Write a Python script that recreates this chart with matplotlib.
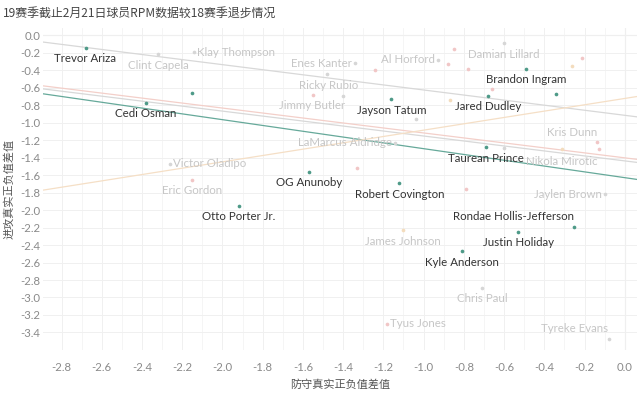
# 19赛季 RPM 退步情况 scatter chart
import numpy as np
import matplotlib
matplotlib.use('Agg')
import matplotlib.pyplot as plt

plt.rcParams['font.family'] = ['Lato', 'Noto Sans CJK SC', 'DejaVu Sans']

# Player data: defensive RPM diff (x), offensive RPM diff (y)
names = ['Trevor Ariza', 'Cedi Osman', '', 'Otto Porter Jr.', 'OG Anunoby',
         'Jayson Tatum', 'Robert Covington', 'Kyle Anderson', 'Taurean Prince',
         'Jared Dudley', 'Justin Holiday', 'Brandon Ingram', '',
         'Rondae Hollis-Jefferson',
         'Clint Capela', 'Klay Thompson', 'Victor Oladipo', 'Eric Gordon',
         'Jimmy Butler', 'Ricky Rubio', 'Enes Kanter', 'Al Horford',
         'Damian Lillard', 'LaMarcus Aldridge', 'Kris Dunn', 'Nikola Mirotic',
         'Jaylen Brown', 'James Johnson', 'Chris Paul', 'Tyus Jones',
         'Tyreke Evans',
         '', '', '', '', '', '', '', '', '', '', '', '', '', '']
def_diff = [-2.68, -2.38, -2.15, -1.92, -1.57,
            -1.16, -1.12, -0.81, -0.69,
            -0.68, -0.53, -0.49, -0.34,
            -0.25,
            -2.32, -2.14, -2.26, -2.15,
            -1.55, -1.48, -1.34, -0.93,
            -0.60, -1.14, -0.14, -0.31,
            -0.10, -1.10, -0.71, -1.18,
            -0.08,
            -1.40, -1.24, -0.85, -0.88, -0.78, -0.26, -0.21, -0.66, -0.87,
            -1.04, -0.13, -0.60, -1.33, -0.79]
off_diff = [-0.14, -0.77, -0.66, -1.95, -1.56,
            -0.73, -1.69, -2.47, -1.28,
            -0.69, -2.25, -0.38, -0.67,
            -2.19,
            -0.21, -0.19, -1.47, -1.65,
            -0.68, -0.44, -0.32, -0.28,
            -0.09, -1.23, -1.22, -1.30,
            -1.82, -2.23, -2.89, -3.30,
            -3.47,
            -0.69, -0.40, -0.16, -0.33, -0.38, -0.35, -0.26, -0.61, -0.74,
            -0.96, -1.30, -1.29, -1.52, -1.76]
groups = ['hl'] * 14 + ['gray', 'gray', 'gray', 'pink',
                        'pink', 'gray', 'gray', 'gray',
                        'gray', 'gray', 'pink', 'tan',
                        'gray', 'tan', 'gray', 'pink',
                        'gray',
                        'gray', 'pink', 'pink', 'pink', 'pink', 'tan', 'pink',
                        'pink', 'tan', 'gray', 'pink', 'gray', 'pink', 'pink']
# label offset in pixels (dx, dy) and alignment
label_pos = [(-1, -11, 'center'), (0, -11, 'center'), None, (0, -11, 'center'),
             (0, -11, 'center'), (0, -11, 'center'), (0, -11, 'center'),
             (0, -11, 'center'), (0, -11, 'center'), (0, -11, 'center'),
             (0, -11, 'center'), (0, -11, 'center'), None, (-61, 10, 'center'),
             (0, -12, 'center'), (3, 0, 'left'), (3, 0, 'left'), (0, -11, 'center'),
             (-1, -11, 'center'), (2, -12, 'center'), (-3, 0, 'right'),
             (-3, 0, 'right'), (0, -11, 'center'), (-3, 0, 'right'),
             (-24, 10, 'center'), (-1, -12, 'center'), (-3, 0, 'right'),
             (-1, -11, 'center'), (0, -11, 'center'), (3, 0, 'left'),
             (-34, 10, 'center')] + [None] * 14

# Trend lines per color group: slope, intercept
trend_groups = ['gray', 'pink', 'gray', 'hl', 'tan']
trend_slope = [-0.29, -0.285, -0.285, -0.332, 0.363]
trend_intercept = [-0.914, -1.401, -1.436, -1.628, -0.721]

dot_colors = {'hl': '#4e9a88', 'gray': '#d6d6d6', 'pink': '#f1c6c6', 'tan': '#f3dcbd'}
line_colors = {'hl': '#66a99a', 'gray': '#d8d8d8', 'pink': '#f3cfc9', 'tan': '#f5dfc6'}

fig = plt.figure(figsize=(6.4, 3.94), dpi=100)
ax = fig.add_axes([0.067, 0.112, 0.928, 0.817])
ax.set_xlim(-2.893, 0.06)
ax.set_ylim(-3.60, 0.086)

# grid
ax.set_xticks(np.round(np.arange(-2.8, 0.01, 0.2), 1))
ax.set_yticks(np.round(np.arange(-3.4, 0.01, 0.2), 1))
ax.set_xticks(np.round(np.arange(-2.8, 0.01, 0.1), 1), minor=True)
ax.set_xticklabels(['%.1f' % abs(v) if v == 0 else '%.1f' % v for v in ax.get_xticks()])
ax.set_yticklabels(['%.1f' % abs(v) if v == 0 else '%.1f' % v for v in ax.get_yticks()])
ax.grid(True, which='major', color='#f0f0f0', lw=0.7)
ax.grid(True, which='minor', axis='x', color='#f4f4f4', lw=0.6)
ax.axvline(0, color='#e2e2e2', lw=0.8, zorder=0.5)
ax.axhline(0, color='#e8e8e8', lw=0.8, zorder=0.5)
ax.set_axisbelow(True)
for s in ax.spines.values():
    s.set_visible(False)
ax.tick_params(which='both', length=0, labelsize=8.2, labelcolor='#8a8a8a')
ax.tick_params(axis='x', pad=9)
ax.tick_params(axis='y', pad=2)

# trend lines
xl = np.array(ax.get_xlim())
for g, m, b in zip(trend_groups, trend_slope, trend_intercept):
    ax.plot(xl, m * xl + b, color=line_colors[g], lw=0.9, zorder=1)

# points and labels
for i in range(len(names)):
    g = groups[i]
    ax.scatter(def_diff[i], off_diff[i], s=7, color=dot_colors[g], lw=0, zorder=3)
    if names[i] and label_pos[i]:
        dx, dy, ha = label_pos[i]
        ax.annotate(names[i], (def_diff[i], off_diff[i]), xytext=(dx, dy),
                    textcoords='offset pixels', ha=ha, va='center',
                    fontsize=8.3, color='#333333' if g == 'hl' else '#c6c6c6',
                    zorder=4)

fig.text(0.005, 0.965, '19赛季截止2月21日球员RPM数据较18赛季退步情况',
         fontsize=8.6, color='#444444', family=['Noto Sans CJK SC'], va='center')
ax.set_xlabel('防守真实正负值差值', fontsize=8, color='#555555',
              family=['Noto Sans CJK SC'], labelpad=4)
ax.set_ylabel('进攻真实正负值差值', fontsize=8, color='#555555',
              family=['Noto Sans CJK SC'], labelpad=4)

plt.savefig('out.png', dpi=100)
